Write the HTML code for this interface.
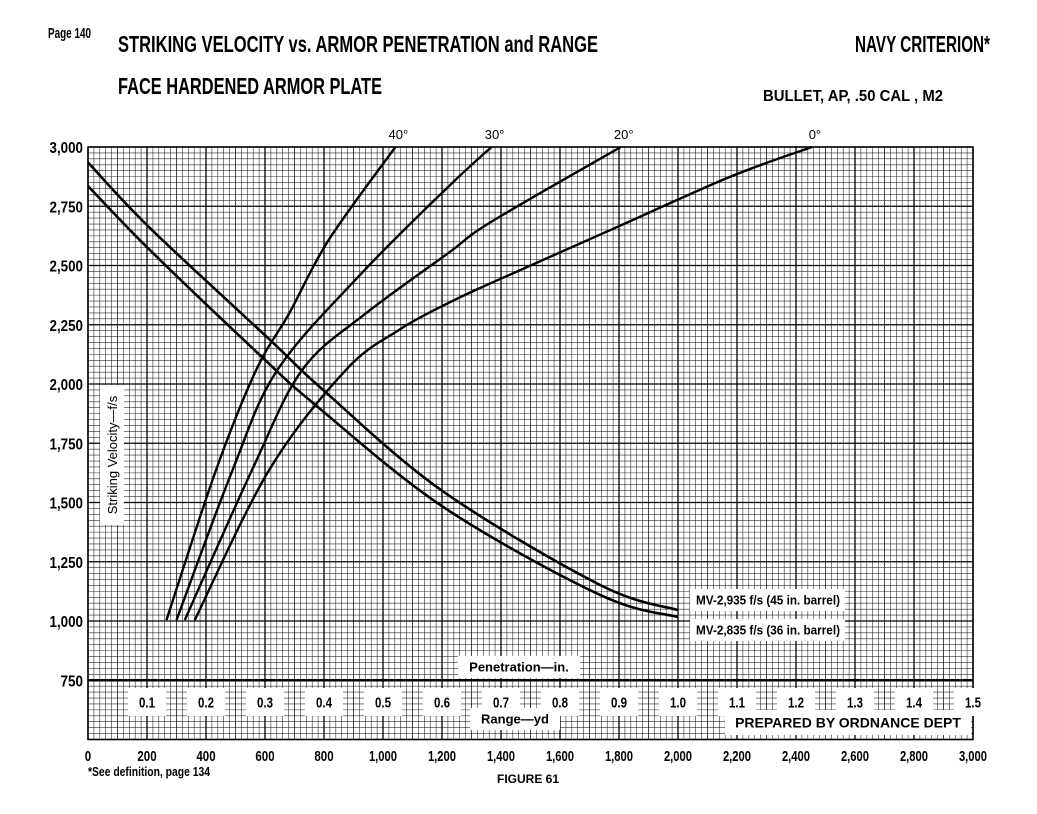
<!DOCTYPE html>
<html><head><meta charset="utf-8"><style>
html,body{margin:0;padding:0;background:#fff;}
svg{display:block;font-family:"Liberation Sans Narrow","Liberation Sans",sans-serif;}
</style></head><body>
<svg id="chart" width="1037" height="814" viewBox="0 0 1037 814" xmlns="http://www.w3.org/2000/svg">
<rect width="1037" height="814" fill="#fff"/>
<text x="48" y="38" font-size="15" font-weight="bold" textLength="43" lengthAdjust="spacingAndGlyphs">Page 140</text>
<text x="118" y="52" font-size="23" font-weight="bold" textLength="480" lengthAdjust="spacingAndGlyphs">STRIKING VELOCITY vs. ARMOR PENETRATION and RANGE</text>
<text x="855" y="52" font-size="23" font-weight="bold" textLength="135" lengthAdjust="spacingAndGlyphs">NAVY CRITERION*</text>
<text x="118" y="94" font-size="23" font-weight="bold" textLength="264" lengthAdjust="spacingAndGlyphs">FACE HARDENED ARMOR PLATE</text>
<text x="763" y="101" font-size="16" font-weight="bold" textLength="180" lengthAdjust="spacingAndGlyphs">BULLET, AP, .50 CAL , M2</text>
<g id="grid"></g>
<g id="labels"></g>
<g id="series"></g>
<g id="boxes"></g>
<text x="88" y="776" font-size="13" font-weight="bold" textLength="122" lengthAdjust="spacingAndGlyphs">*See definition, page 134</text>
<text x="497" y="783" font-size="12" font-weight="bold" font-family="Liberation Sans, sans-serif">FIGURE 61</text>
</svg>
<script>
// ---- data ----
const rangeTicks = [0,200,400,600,800,1000,1200,1400,1600,1800,2000,2200,2400,2600,2800,3000];
const rangeTickLabels = ["0","200","400","600","800","1,000","1,200","1,400","1,600","1,800","2,000","2,200","2,400","2,600","2,800","3,000"];
const velocityTicks = [750,1000,1250,1500,1750,2000,2250,2500,2750,3000];
const velocityTickLabels = ["750","1,000","1,250","1,500","1,750","2,000","2,250","2,500","2,750","3,000"];
const penTicks = [0.1,0.2,0.3,0.4,0.5,0.6,0.7,0.8,0.9,1.0,1.1,1.2,1.3,1.4,1.5];
const penTickLabels = ["0.1","0.2","0.3","0.4","0.5","0.6","0.7","0.8","0.9","1.0","1.1","1.2","1.3","1.4","1.5"];
// penetration curves (penetration in., striking velocity f/s)
const angleLabels = ["40°","30°","20°","0°"];
const pen40 = [0.133,0.217,0.285,0.341,0.408,0.521];
const vel40 = [1004,1637,2059,2298,2608,3000];
const pen30 = [0.150,0.245,0.321,0.464,0.611,0.684];
const vel30 = [1004,1637,2059,2468,2833,3000];
const pen20 = [0.164,0.278,0.363,0.471,0.611,0.684,0.903];
const vel20 = [1004,1637,2059,2298,2553,2685,3000];
const pen0 = [0.181,0.307,0.437,0.527,0.611,0.695,0.893,1.089,1.227];
const vel0 = [1004,1637,2059,2228,2342,2439,2658,2875,3000];
// range curves (range yd, striking velocity f/s)
const range45 = [0,210,617,797,1200,1736,2000];
const vel45 = [2935,2658,2186,1975,1550,1152,1046];
const range36 = [0,210,593,763,1203,1736,2000];
const vel36 = [2835,2565,2110,1920,1482,1110,1017];

// ---- axes ----
const X0=88, X1=973, Y3000=147, PXV=0.237;
const xR = r => X0 + r*(X1-X0)/3000;
const xP = p => xR(p*2000);
const yV = v => Y3000 + (3000-v)*PXV;
const NS="http://www.w3.org/2000/svg";
function mk(tag, parent, attrs){const e=document.createElementNS(NS,tag);for(const k in attrs)e.setAttribute(k,attrs[k]);parent.appendChild(e);return e;}
function tw(s,d,c){let w=0;for(const ch of s)w+=(ch===','||ch==='.')?c:d;return w;}

const grid=document.getElementById('grid');
for(let r=0;r<=3000;r+=20){
  const major = r%200===0;
  const l=mk('line',grid,{x1:xR(r),x2:xR(r),y1:yV(3000),y2:yV(500),stroke:'#000','stroke-width':major?1.3:(r%100===0?0.9:0.6),'stroke-opacity':major?1:0.8});
  
  
}
for(let v=500;v<=3000;v+=25){
  const major = v%250===0;
  const l=mk('line',grid,{x1:X0,x2:X1,y1:yV(v),y2:yV(v),stroke:'#000','stroke-width':v===750?2.5:(major?1.3:0.6),'stroke-opacity':major?1:0.8});
  
  
}
const frame=mk('rect',grid,{x:X0,y:yV(3000),width:X1-X0,height:yV(500)-yV(3000),fill:'none',stroke:'#000','stroke-width':1.5});



const labels=document.getElementById('labels');
velocityTicks.forEach((v,i)=>{
  const s=velocityTickLabels[i];
  const t=mk('text',labels,{x:83,y:yV(v)+6,'text-anchor':'end','font-size':16,'font-weight':'bold',textLength:tw(s,7.5,3.5),lengthAdjust:'spacingAndGlyphs'});
  t.textContent=s;
  
  
});
rangeTicks.forEach((r,i)=>{
  const s=rangeTickLabels[i];
  const t=mk('text',labels,{x:xR(r),y:761,'text-anchor':'middle','font-size':15,'font-weight':'bold',textLength:tw(s,6.4,2.5),lengthAdjust:'spacingAndGlyphs'});
  t.textContent=s;
  
  
});

const series=document.getElementById('series');
function curve(xs,ys,xf,name,w){
  const pts=xs.map((x,i)=>[xf(x),yV(ys[i])]);
  let d='M'+pts[0][0]+','+pts[0][1];
  for(let i=0;i<pts.length-1;i++){
    const p0=pts[i-1]||pts[i],p1=pts[i],p2=pts[i+1],p3=pts[i+2]||p2;
    const c1=[p1[0]+(p2[0]-p0[0])/6,p1[1]+(p2[1]-p0[1])/6];
    const c2=[p2[0]-(p3[0]-p1[0])/6,p2[1]-(p3[1]-p1[1])/6];
    d+=' C'+c1+' '+c2+' '+p2;
  }
  const p=mk('path',series,{d:d,fill:'none',stroke:'#000','stroke-width':w,'stroke-linejoin':'round'});
  
  
}
const penSeries=[[pen40,vel40],[pen30,vel30],[pen20,vel20],[pen0,vel0]];
const penNames=['curve-40-deg','curve-30-deg','curve-20-deg','curve-0-deg'];
penSeries.forEach((s,i)=>{
  curve(s[0],s[1],xP,penNames[i],2.4);
  const top=s[0][s[0].length-1];
  const t=mk('text',labels,{x:xP(top)+3,y:139,'text-anchor':'middle','font-size':13,'font-family':'Liberation Sans, sans-serif'});
  t.textContent=angleLabels[i];
  
  
});
curve(range45,vel45,xR,'curve-mv-2935',2.6);
curve(range36,vel36,xR,'curve-mv-2835',2.6);

const boxes=document.getElementById('boxes');
function box(x,y,w,h,text,name,fs,anchor,family,tl){
  const g=mk('g',boxes,{});
  
  
  mk('rect',g,{x:x,y:y,width:w,height:h,fill:'#fff'});
  const t=mk('text',g,{x:anchor==='start'?x+6:x+w/2,y:y+h/2+fs*0.36,'text-anchor':anchor||'middle','font-size':fs,'font-weight':'bold'});
  if(family)t.setAttribute('font-family',family);
  if(tl){t.setAttribute('textLength',tl);t.setAttribute('lengthAdjust','spacingAndGlyphs');}
  t.textContent=text;
}
penTicks.forEach((p,i)=>{
  box(xP(p)-19,688,38,28,penTickLabels[i],'penetration-tick-label',15,'middle',null,16);
});
box(458,656,122,22,'Penetration—in.','penetration-axis-title',13,'middle','Liberation Sans, sans-serif');
box(470,708,90,22,'Range—yd','range-axis-title',13,'middle','Liberation Sans, sans-serif');
box(725,710,246,25,'PREPARED BY ORDNANCE DEPT','prepared-by-note',14,'middle','Liberation Sans, sans-serif');
box(690,589,155,22,'MV-2,935 f/s (45 in. barrel)','legend-mv-2935',13,'start',null,144);
box(690,619,155,22,'MV-2,835 f/s (36 in. barrel)','legend-mv-2835',13,'start',null,144);
// rotated y-axis title
const yg=mk('g',boxes,{transform:'translate(112,455) rotate(-90)'});


mk('rect',yg,{x:-70,y:-12,width:140,height:24,fill:'#fff'});
const yt=mk('text',yg,{x:0,y:5,'text-anchor':'middle','font-size':13,'font-family':'Liberation Sans, sans-serif'});
yt.textContent='Striking Velocity—f/s';
</script>
</body></html>
